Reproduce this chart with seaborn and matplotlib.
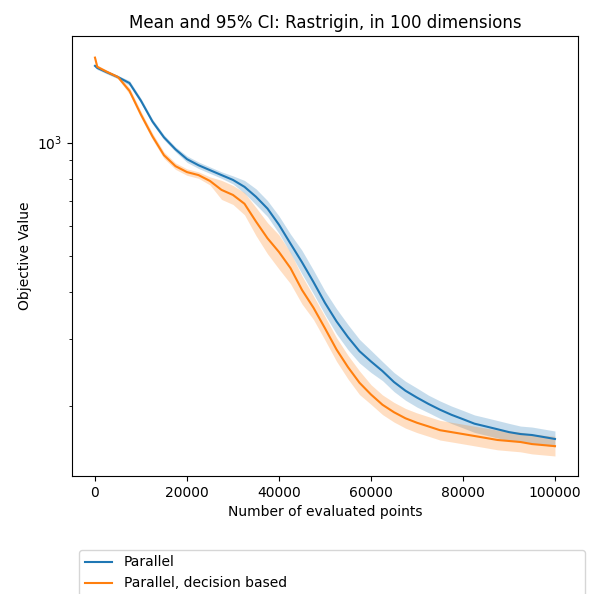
import matplotlib
matplotlib.use("Agg")
import matplotlib.pyplot as plt
import pandas as pd
import seaborn as sns

# evaluations (x) and mean objective values
evals = [0, 500, 2500, 5000, 7500, 10000, 12500, 15000, 17500, 20000,
         22500, 25000, 27500, 30000, 32500, 35000, 37500, 40000, 42500, 45000,
         47500, 50000, 52500, 55000, 57500, 60000, 62500, 65000, 67500, 70000,
         72500, 75000, 77500, 80000, 82500, 85000, 87500, 90000, 92500, 95000,
         97500, 100000]

parallel_mean = [1600, 1580, 1540, 1494, 1440, 1292, 1138, 1033, 960, 904,
                 871, 845, 820, 796, 763, 718, 668, 605, 539, 481,
                 426, 375, 335, 304, 279, 262, 247, 231, 219, 210,
                 202, 195, 189, 184, 179, 176, 173, 170, 168, 167,
                 165, 163]

decision_mean = [1683, 1591, 1545, 1494, 1373, 1187, 1039, 926, 866, 835,
                 820, 791, 749, 726, 688, 617, 557, 512, 464, 406,
                 364, 321, 282, 253, 230, 214, 201, 192, 185, 180,
                 176, 172, 170, 168, 166, 164, 162, 161, 160, 158,
                 157, 156]

# multiplicative half-width of the 95% CI band
parallel_ci = [1.01, 1.01, 1.01, 1.01, 1.015, 1.015, 1.015, 1.015, 1.015, 1.02,
               1.02, 1.02, 1.02, 1.025, 1.04, 1.05, 1.05, 1.055, 1.06, 1.075,
               1.075, 1.075, 1.08, 1.08, 1.075, 1.07, 1.06, 1.06, 1.06, 1.06,
               1.055, 1.055, 1.055, 1.055, 1.055, 1.055, 1.055, 1.055, 1.05, 1.05,
               1.05, 1.05]

decision_ci = [1.01, 1.01, 1.01, 1.01, 1.02, 1.02, 1.02, 1.02, 1.02, 1.02,
               1.02, 1.025, 1.06, 1.06, 1.07, 1.09, 1.10, 1.11, 1.10, 1.09,
               1.075, 1.075, 1.075, 1.075, 1.075, 1.062, 1.062, 1.062, 1.062, 1.062,
               1.062, 1.062, 1.062, 1.062, 1.062, 1.062, 1.062, 1.062, 1.062, 1.062,
               1.062, 1.062]

labels = ["Parallel", "Parallel, decision based"]

series = {
    labels[0]: (parallel_mean, parallel_ci, "#1f77b4"),
    labels[1]: (decision_mean, decision_ci, "#ff7f0e"),
}

fig = plt.figure(figsize=(5.92, 5.94), dpi=100)
ax = fig.add_axes([0.1216, 0.1987, 0.8547, 0.7407])

for name, (mean, ci, color) in series.items():
    df = pd.DataFrame({"evals": evals, "mean": mean, "ci": ci})
    df["lo"] = df["mean"] / df["ci"]
    df["hi"] = df["mean"] * df["ci"]
    sns.lineplot(data=df, x="evals", y="mean", color=color, label=name,
                 linewidth=1.5, ax=ax)
    ax.fill_between(df["evals"], df["lo"], df["hi"], color=color,
                    alpha=0.25, linewidth=0)

ax.set_yscale("log")
ax.set(xlabel="Number of evaluated points", ylabel="Objective Value")
ax.set_title("Mean and 95% CI: Rastrigin, in 100 dimensions", fontsize=12)
ax.legend(loc="upper left", bbox_to_anchor=(0.014, -0.268, 1.0, 0.1),
          mode="expand", borderaxespad=0)

fig.savefig("out.png", dpi=100)
